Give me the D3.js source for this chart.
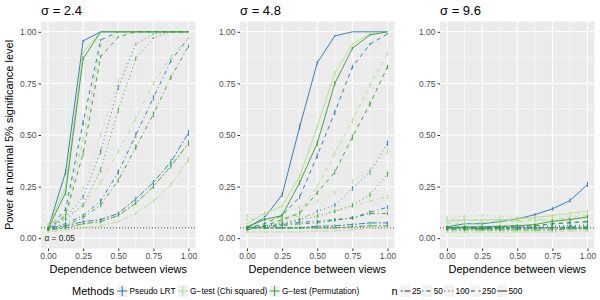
<!DOCTYPE html>
<html>
<head>
<meta charset="utf-8">
<script src="https://cdn.jsdelivr.net/npm/d3@7"></script>
<style>
  body { margin: 0; background: #fff; }
  svg { font-family: "Liberation Sans", Arial, Helvetica, sans-serif; }
</style>
</head>
<body>
<svg class="chart" width="600" height="300"></svg>
<script>

// ---- data ----
const sigmas = ['2.4', '4.8', '9.6'];
const dependence = [0, 0.125, 0.25, 0.375, 0.5, 0.625, 0.75, 0.875, 1];
const methods = ['Pseudo LRT', 'G\u2212test (Chi squared)', 'G\u2212test (Permutation)'];
const sampleSizes = ['25', '50', '100', '250', '500'];
const alphaLevel = 0.05;
const nSims = 5000; // replicates behind each power estimate (error bars)

// rows follow sampleSizes: 25, 50, 100, 250, 500
const lrt_s24 = [
    [0.05, 0.06, 0.08, 0.09, 0.12, 0.19, 0.27, 0.37, 0.51],
    [0.05, 0.07, 0.11, 0.18, 0.32, 0.50, 0.68, 0.86, 0.97],
    [0.05, 0.10, 0.20, 0.42, 0.73, 0.94, 0.99, 1.00, 1.00],
    [0.045, 0.14, 0.56, 0.96, 1.00, 1.00, 1.00, 1.00, 1.00],
    [0.045, 0.32, 0.956, 1.00, 1.00, 1.00, 1.00, 1.00, 1.00]
];
const chisq_s24 = [
    [0.03, 0.04, 0.05, 0.06, 0.08, 0.12, 0.18, 0.26, 0.38],
    [0.07, 0.10, 0.16, 0.27, 0.42, 0.58, 0.75, 0.88, 0.97],
    [0.06, 0.12, 0.24, 0.50, 0.76, 0.94, 0.99, 1.00, 1.00],
    [0.05, 0.12, 0.48, 0.93, 0.995, 1.00, 1.00, 1.00, 1.00],
    [0.05, 0.25, 0.90, 1.00, 1.00, 1.00, 1.00, 1.00, 1.00]
];
const perm_s24 = [
    [0.04, 0.05, 0.07, 0.08, 0.11, 0.17, 0.25, 0.35, 0.46],
    [0.04, 0.06, 0.10, 0.16, 0.28, 0.44, 0.60, 0.78, 0.93],
    [0.05, 0.09, 0.16, 0.33, 0.62, 0.87, 0.97, 1.00, 1.00],
    [0.045, 0.11, 0.41, 0.88, 0.975, 1.00, 1.00, 1.00, 1.00],
    [0.045, 0.22, 0.87, 1.00, 1.00, 1.00, 1.00, 1.00, 1.00]
];

const lrt_s48 = [
    [0.05, 0.05, 0.05, 0.05, 0.058, 0.06, 0.066, 0.074, 0.074],
    [0.05, 0.058, 0.066, 0.077, 0.082, 0.09, 0.098, 0.126, 0.15],
    [0.05, 0.058, 0.066, 0.09, 0.13, 0.16, 0.24, 0.32, 0.46],
    [0.05, 0.07, 0.11, 0.20, 0.40, 0.61, 0.83, 0.94, 0.99],
    [0.05, 0.10, 0.21, 0.54, 0.85, 0.98, 1.00, 1.00, 1.00]
];
const chisq_s48 = [
    [0.03, 0.03, 0.03, 0.03, 0.035, 0.035, 0.04, 0.05, 0.05],
    [0.09, 0.095, 0.10, 0.105, 0.115, 0.13, 0.155, 0.18, 0.20],
    [0.11, 0.12, 0.13, 0.15, 0.18, 0.22, 0.275, 0.33, 0.42],
    [0.04, 0.06, 0.08, 0.13, 0.25, 0.41, 0.57, 0.74, 0.895],
    [0.07, 0.12, 0.155, 0.30, 0.54, 0.80, 0.94, 0.99, 1.00]
];
const perm_s48 = [
    [0.05, 0.05, 0.05, 0.05, 0.05, 0.05, 0.055, 0.06, 0.06],
    [0.05, 0.055, 0.06, 0.07, 0.074, 0.087, 0.098, 0.12, 0.12],
    [0.05, 0.06, 0.075, 0.09, 0.105, 0.13, 0.16, 0.21, 0.31],
    [0.04, 0.06, 0.09, 0.12, 0.22, 0.32, 0.49, 0.65, 0.83],
    [0.055, 0.09, 0.11, 0.27, 0.46, 0.75, 0.92, 0.985, 1.00]
];

const lrt_s96 = [
    [0.05, 0.05, 0.045, 0.05, 0.05, 0.05, 0.05, 0.05, 0.05],
    [0.05, 0.05, 0.05, 0.05, 0.05, 0.05, 0.05, 0.055, 0.055],
    [0.05, 0.05, 0.05, 0.05, 0.055, 0.055, 0.06, 0.06, 0.065],
    [0.05, 0.055, 0.05, 0.055, 0.06, 0.06, 0.07, 0.075, 0.08],
    [0.055, 0.07, 0.07, 0.08, 0.093, 0.114, 0.142, 0.182, 0.26]
];
const chisq_s96 = [
    [0.03, 0.03, 0.03, 0.03, 0.03, 0.03, 0.03, 0.035, 0.035],
    [0.09, 0.09, 0.09, 0.085, 0.085, 0.09, 0.09, 0.095, 0.10],
    [0.10, 0.105, 0.11, 0.105, 0.10, 0.10, 0.105, 0.11, 0.115],
    [0.07, 0.07, 0.075, 0.08, 0.08, 0.085, 0.09, 0.10, 0.11],
    [0.082, 0.087, 0.087, 0.09, 0.093, 0.10, 0.11, 0.122, 0.13]
];
const perm_s96 = [
    [0.04, 0.04, 0.04, 0.04, 0.04, 0.04, 0.04, 0.045, 0.045],
    [0.045, 0.045, 0.045, 0.045, 0.045, 0.05, 0.05, 0.05, 0.05],
    [0.05, 0.05, 0.05, 0.05, 0.05, 0.055, 0.055, 0.06, 0.06],
    [0.05, 0.05, 0.055, 0.055, 0.06, 0.06, 0.07, 0.075, 0.08],
    [0.05, 0.055, 0.055, 0.058, 0.06, 0.066, 0.082, 0.09, 0.103]
];

const powerBySigma = [
    [lrt_s24, chisq_s24, perm_s24],
    [lrt_s48, chisq_s48, perm_s48],
    [lrt_s96, chisq_s96, perm_s96]
];

const xTicks = [0, 0.25, 0.5, 0.75, 1];
const yTicks = [0, 0.25, 0.5, 0.75, 1];

// ---- styles ----
const methodColors = ['#1F78B4', '#B2DF8A', '#33A02C'];
const dashes = ['2,2,6,2', '1,3,4,3', '1,3', '4,4', null];

const panelLefts = [41, 240, 440];
const panelW = 154.5;
const panelTop = 21.5, panelBottom = 248.5;

const svg = d3.select('svg.chart');

const y = d3.scaleLinear().domain([-0.05, 1.05]).range([panelBottom, panelTop]);

sigmas.forEach((sigma, si) => {

    const left = panelLefts[si];
    const x = d3.scaleLinear().domain([-0.05, 1.05]).range([left, left + panelW]);

    const g = svg.append('g');

    g.append('rect')
        .attr('x', left).attr('y', panelTop)
        .attr('width', panelW).attr('height', panelBottom - panelTop)
        .attr('fill', '#EBEBEB');

    // minor grid
    const minorX = [0.125, 0.375, 0.625, 0.875];
    g.selectAll('line.minx').data(minorX).join('line')
        .attr('x1', d => x(d)).attr('x2', d => x(d))
        .attr('y1', panelTop).attr('y2', panelBottom)
        .attr('stroke', '#fff').attr('stroke-width', 0.5);
    g.selectAll('line.miny').data(minorX).join('line')
        .attr('y1', d => y(d)).attr('y2', d => y(d))
        .attr('x1', left).attr('x2', left + panelW)
        .attr('stroke', '#fff').attr('stroke-width', 0.5);

    // major grid
    g.selectAll('line.majx').data(xTicks).join('line')
        .attr('x1', d => x(d)).attr('x2', d => x(d))
        .attr('y1', panelTop).attr('y2', panelBottom)
        .attr('stroke', '#fff').attr('stroke-width', 1.1);
    g.selectAll('line.majy').data(yTicks).join('line')
        .attr('y1', d => y(d)).attr('y2', d => y(d))
        .attr('x1', left).attr('x2', left + panelW)
        .attr('stroke', '#fff').attr('stroke-width', 1.1);

    // alpha reference line
    g.append('line')
        .attr('x1', left).attr('x2', left + panelW)
        .attr('y1', y(alphaLevel)).attr('y2', y(alphaLevel))
        .attr('stroke', '#555').attr('stroke-width', 1)
        .attr('stroke-dasharray', '1,2');

    if (si == 0) {
        g.append('text')
            .attr('x', x(0) - 3.5).attr('y', y(0) + 2.8)
            .attr('font-size', 8.3).attr('fill', '#222')
            .text('\u03B1 = 0.05');
    }

    const line = d3.line()
        .x((d, i) => x(dependence[i]))
        .y(d => y(d));

    powerBySigma[si].forEach((rows, mi) => {
        rows.forEach((vals, ni) => {

            g.append('path')
                .datum(vals)
                .attr('d', line)
                .attr('fill', 'none')
                .attr('stroke', methodColors[mi])
                .attr('stroke-opacity', 0.9)
                .attr('stroke-width', 1)
                .attr('stroke-dasharray', dashes[ni]);

            // error bars
            g.selectAll(null).data(vals).join('line')
                .attr('x1', (d, i) => x(dependence[i]))
                .attr('x2', (d, i) => x(dependence[i]))
                .attr('y1', d => y(Math.min(1, d + 1.96 * Math.sqrt(d * (1 - d) / nSims))))
                .attr('y2', d => y(Math.max(0, d - 1.96 * Math.sqrt(d * (1 - d) / nSims))))
                .attr('stroke', methodColors[mi])
                .attr('stroke-opacity', 0.9)
                .attr('stroke-width', 1);

        })
    })

    // axes
    const ax = g.append('g')
        .attr('transform', `translate(0,${panelBottom})`)
        .call(d3.axisBottom(x).tickValues(xTicks).tickFormat(d3.format('.2f')).tickSizeOuter(0).tickSize(2.5).tickPadding(2));
    const ay = g.append('g')
        .attr('transform', `translate(${left},0)`)
        .call(d3.axisLeft(y).tickValues(yTicks).tickFormat(d3.format('.2f')).tickSizeOuter(0).tickSize(2.5).tickPadding(2));

    [ax, ay].forEach(a => {
        a.select('.domain').remove();
        a.selectAll('.tick line').attr('stroke', '#333');
        a.selectAll('.tick text')
            .attr('fill', '#4D4D4D')
            .attr('font-size', 8.5)
            .attr('font-family', '"Liberation Sans", Arial, sans-serif');
    })

    g.append('text')
        .attr('x', left).attr('y', 14.5)
        .attr('font-size', 13)
        .text('\u03C3 = ' + sigma);

    g.append('text')
        .attr('x', left + panelW / 2).attr('y', 273)
        .attr('text-anchor', 'middle')
        .attr('font-size', 11)
        .text('Dependence between views');

})

svg.append('text')
    .attr('transform', `translate(13,${(panelTop + panelBottom) / 2}) rotate(-90)`)
    .attr('text-anchor', 'middle')
    .attr('font-size', 11)
    .text('Power at nominal 5% significance level');

// ---- legend ----
const legY = 291;
const keyW = 10;
let cx = 72;

function legendTitle(txt) {
    const t = svg.append('text')
        .attr('x', cx).attr('y', legY + 4)
        .attr('font-size', 11)
        .text(txt);
    cx += t.node().getComputedTextLength() + 3;
}

function legendKey(drawKey, label, gap) {
    svg.append('rect')
        .attr('x', cx).attr('y', legY - 6)
        .attr('width', keyW).attr('height', 12)
        .attr('fill', '#F2F2F2');
    drawKey(cx);
    cx += keyW + gap;
    const t = svg.append('text')
        .attr('x', cx).attr('y', legY + 3)
        .attr('font-size', 8.3)
        .text(label);
    cx += t.node().getComputedTextLength() + gap;
}

legendTitle('Methods');
methods.forEach((m, mi) => {
    legendKey(kx => {
        svg.append('line')
            .attr('x1', kx).attr('x2', kx + keyW)
            .attr('y1', legY).attr('y2', legY)
            .attr('stroke', methodColors[mi]).attr('stroke-width', 1);
        svg.append('line')
            .attr('x1', kx + keyW / 2).attr('x2', kx + keyW / 2)
            .attr('y1', legY - 5).attr('y2', legY + 5)
            .attr('stroke', methodColors[mi]).attr('stroke-width', 1);
    }, m, 2.3);
})

cx += 30;
legendTitle('n');
sampleSizes.forEach((n, ni) => {
    legendKey(kx => {
        svg.append('line')
            .attr('x1', kx).attr('x2', kx + keyW)
            .attr('y1', legY).attr('y2', legY)
            .attr('stroke', '#333').attr('stroke-width', 1)
            .attr('stroke-dasharray', dashes[ni]);
    }, n, 1.3);
})

</script>
</body>
</html>
